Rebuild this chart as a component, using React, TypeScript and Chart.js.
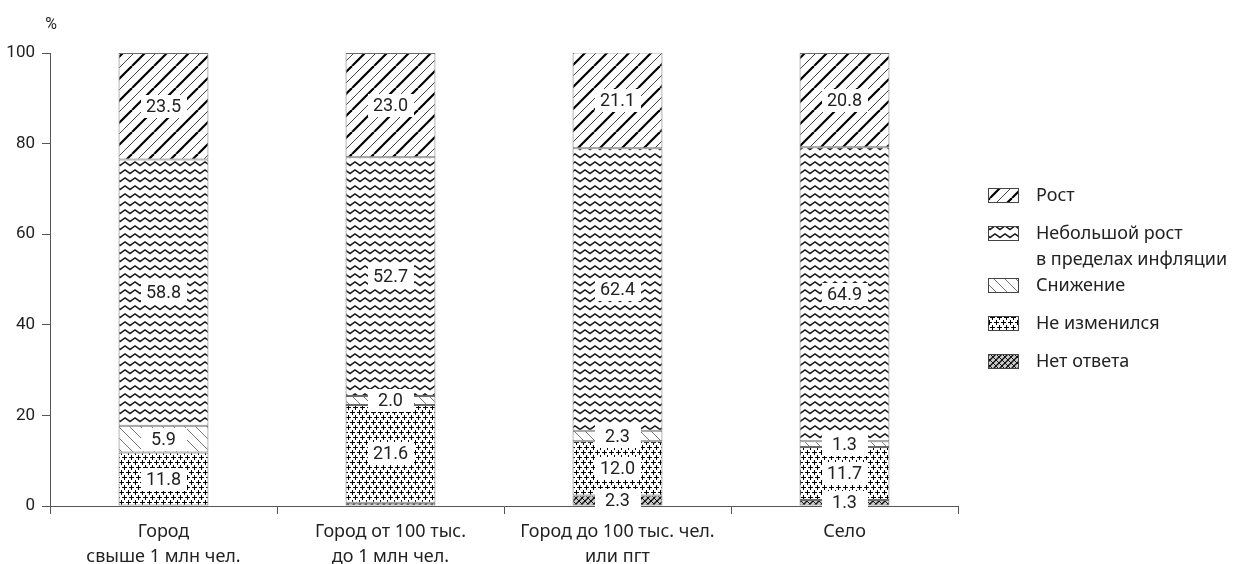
import { useEffect, useRef } from "react";
import { Chart, registerables } from "chart.js";

Chart.register(...registerables);

// Settlement types (x categories)
const categories: string[][] = [
  ["Город", "свыше 1 млн чел."],
  ["Город от 100 тыс.", "до 1 млн чел."],
  ["Город до 100 тыс. чел.", "или пгт"],
  ["Село"],
];

// Shares of answers, % (stacked bottom to top)
const noAnswer = [0, 0.7, 2.3, 1.3];
const unchanged = [11.8, 21.6, 12.0, 11.7];
const decrease = [5.9, 2.0, 2.3, 1.3];
const smallGrowth = [58.8, 52.7, 62.4, 64.9];
const growth = [23.5, 23.0, 21.1, 20.8];

const yTicks = [0, 20, 40, 60, 80, 100];

// Legend entries, top to bottom
const legendLabels: string[][] = [
  ["Рост"],
  ["Небольшой рост", "в пределах инфляции"],
  ["Снижение"],
  ["Не изменился"],
  ["Нет ответа"],
];

const NUM = 'Roboto, "Liberation Sans", sans-serif';
const TEXT = '"Noto Sans", "Open Sans", sans-serif';

function tile(w: number, h: number, draw: (g: CanvasRenderingContext2D) => void) {
  const c = document.createElement("canvas");
  c.width = w;
  c.height = h;
  const g = c.getContext("2d")!;
  g.fillStyle = "#fff";
  g.fillRect(0, 0, w, h);
  draw(g);
  return c;
}

function line(g: CanvasRenderingContext2D, x1: number, y1: number, x2: number, y2: number) {
  g.beginPath();
  g.moveTo(x1, y1);
  g.lineTo(x2, y2);
  g.stroke();
}

function makePatterns(ctx: CanvasRenderingContext2D) {
  // "/" hatching, thick and thin lines alternating
  const T = 22;
  const growthTile = tile(T, T, (g) => {
    for (const c of [0, T, 2 * T]) {
      g.strokeStyle = "#000";
      g.lineWidth = 2.2;
      line(g, c, 0, c - T, T);
    }
    for (const c of [T / 2, (3 * T) / 2]) {
      g.strokeStyle = "#444";
      g.lineWidth = 1;
      line(g, c, 0, c - T, T);
    }
  });

  // zigzag rows
  const zigTile = tile(10, 8, (g) => {
    g.strokeStyle = "#1a1a1a";
    g.lineWidth = 1.5;
    g.lineJoin = "miter";
    g.beginPath();
    g.moveTo(-5, 2);
    g.lineTo(0, 5.5);
    g.lineTo(5, 2);
    g.lineTo(10, 5.5);
    g.lineTo(15, 2);
    g.stroke();
  });

  // "\" thin grey hatching
  const D = 11;
  const decTile = tile(D, D, (g) => {
    g.strokeStyle = "#777";
    g.lineWidth = 1;
    for (const c of [-D, 0, D]) line(g, c, 0, c + D, D);
  });

  // plus signs, staggered rows
  const plusTile = tile(7, 10, (g) => {
    g.fillStyle = "#000";
    const plus = (cx: number, cy: number) => {
      g.fillRect(cx - 2, cy, 5, 1);
      g.fillRect(cx, cy - 2, 1, 5);
    };
    plus(2, 2);
    plus(5, 7);
    plus(-2, 7);
  });

  // cross hatching
  const X = 6;
  const crossTile = tile(X, X, (g) => {
    g.fillStyle = "#ccc";
    g.fillRect(0, 0, X, X);
    g.strokeStyle = "#111";
    g.lineWidth = 1;
    for (const c of [-X, 0, X]) line(g, c, 0, c + X, X);
    g.lineWidth = 1.3;
    for (const c of [0, X, 2 * X]) line(g, c, 0, c - X, X);
  });

  const p = (c: HTMLCanvasElement) => ctx.createPattern(c, "repeat")!;
  return {
    growth: p(growthTile),
    smallGrowth: p(zigTile),
    decrease: p(decTile),
    unchanged: p(plusTile),
    noAnswer: p(crossTile),
  };
}

export default function App() {
  const ref = useRef<HTMLCanvasElement | null>(null);

  useEffect(() => {
    const canvas = ref.current!;
    const ctx = canvas.getContext("2d")!;
    const pat = makePatterns(ctx);
    const legendFills = [pat.growth, pat.smallGrowth, pat.decrease, pat.unchanged, pat.noAnswer];

    const valueLabels = {
      id: "valueLabels",
      afterDatasetsDraw(chart: any) {
        const c = chart.ctx as CanvasRenderingContext2D;
        c.save();
        chart.data.datasets.forEach((ds: any, di: number) => {
          const meta = chart.getDatasetMeta(di);
          meta.data.forEach((el: any, i: number) => {
            const v = ds.data[i] as number;
            if (v < 1) return;
            const { x, y, base } = el.getProps(["x", "y", "base"], true);
            const cy = (y + base) / 2;
            c.fillStyle = "#fff";
            c.fillRect(Math.round(x - 23), Math.round(cy - 11.5), 46, 23);
            c.fillStyle = "#222";
            c.font = `18px ${NUM}`;
            c.textAlign = "center";
            c.textBaseline = "middle";
            c.fillText(v.toFixed(1), x, cy + 1);
          });
        });
        c.restore();
      },
    };

    const extras = {
      id: "extras",
      afterDraw(chart: any) {
        const c = chart.ctx as CanvasRenderingContext2D;
        c.save();
        // axis unit
        c.fillStyle = "#222";
        c.font = `16px ${NUM}`;
        c.textAlign = "center";
        c.textBaseline = "middle";
        c.fillText("%", 51, 25);

        // legend
        const swY = [188, 226, 278, 316, 354];
        c.font = `18px ${TEXT}`;
        c.textAlign = "left";
        legendLabels.forEach((lines, i) => {
          const top = swY[i];
          c.fillStyle = legendFills[i];
          c.fillRect(988, top, 31, 15);
          c.strokeStyle = "#444";
          c.lineWidth = 1;
          c.strokeRect(988.5, top + 0.5, 30, 14);
          c.fillStyle = "#222";
          lines.forEach((t, k) => {
            c.fillText(t, 1036, top + 8 + k * 26);
          });
        });
        c.restore();
      },
    };

    const mk = (data: number[], fill: CanvasPattern) => ({
      data,
      backgroundColor: fill,
      borderColor: "#6a6a6a",
      borderWidth: 1,
      borderSkipped: false as const,
      barPercentage: 0.8,
      categoryPercentage: 0.495,
    });

    const chart = new Chart(canvas, {
      type: "bar",
      data: {
        labels: categories,
        datasets: [
          { label: "Нет ответа", ...mk(noAnswer, pat.noAnswer) },
          { label: "Не изменился", ...mk(unchanged, pat.unchanged) },
          { label: "Снижение", ...mk(decrease, pat.decrease) },
          { label: "Небольшой рост в пределах инфляции", ...mk(smallGrowth, pat.smallGrowth) },
          { label: "Рост", ...mk(growth, pat.growth) },
        ],
      },
      options: {
        responsive: false,
        animation: false,
        devicePixelRatio: 1,
        layout: { padding: { left: 0, right: 278, top: 53, bottom: 0 } },
        plugins: {
          legend: { display: false },
          tooltip: { enabled: false },
        },
        scales: {
          x: {
            stacked: true,
            grid: {
              display: true,
              drawOnChartArea: false,
              drawTicks: true,
              tickLength: 8,
              color: "#555",
              offset: true,
            },
            border: { display: true, color: "#555", width: 1 },
            ticks: {
              color: "#222",
              padding: 5,
              font: { family: TEXT, size: 18, lineHeight: 1.4 },
              maxRotation: 0,
              autoSkip: false,
            },
            afterFit(scale: any) {
              scale.height = 58;
            },
          },
          y: {
            stacked: true,
            min: 0,
            max: 100,
            afterBuildTicks(scale: any) {
              scale.ticks = yTicks.map((v) => ({ value: v }));
            },
            grid: {
              display: true,
              drawOnChartArea: false,
              drawTicks: true,
              tickLength: 8,
              color: "#555",
            },
            border: { display: true, color: "#555", width: 1 },
            ticks: {
              color: "#222",
              padding: 7,
              font: { family: NUM, size: 17 },
            },
            afterFit(scale: any) {
              scale.width = 50;
            },
          },
        },
      },
      plugins: [valueLabels, extras],
    });

    return () => chart.destroy();
  }, []);

  return (
    <div
      style={{
        position: "fixed",
        left: 0,
        top: 0,
        width: 1236,
        height: 564,
        background: "#fff",
      }}
    >
      <canvas ref={ref} width={1236} height={564} />
    </div>
  );
}
